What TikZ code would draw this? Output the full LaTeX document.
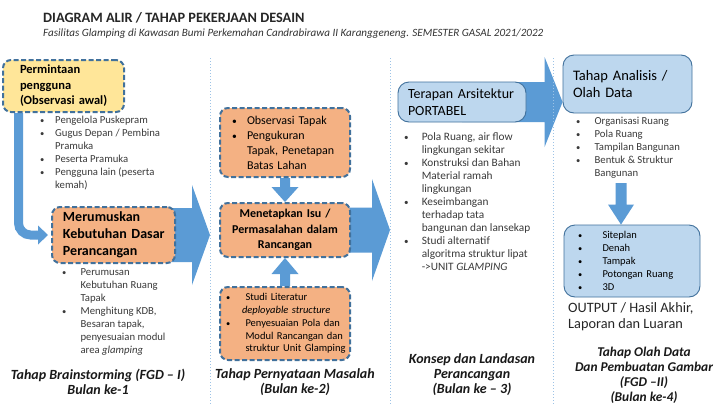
\documentclass[tikz,border=0pt]{standalone}
\usepackage{fontspec}
\setmainfont{Carlito}
\usetikzlibrary{calc,backgrounds,positioning}
\hyphenpenalty=10000
\exhyphenpenalty=10000

\definecolor{boxorange}{HTML}{F4B183}
\definecolor{boxyellow}{HTML}{FFE699}
\definecolor{boxblue}{HTML}{BDD7EE}
\definecolor{edgeblue}{HTML}{41719C}
\definecolor{arrowblue}{HTML}{5B9BD5}
\definecolor{sepblue}{HTML}{9DC3E6}
\definecolor{textgray}{HTML}{3A3A3A}

% bullet and hanging indent for the lists
\newcommand{\bul}[1][15pt]{\makebox[#1][l]{\scalebox{0.8}{\textbullet}}}
\newcommand{\ind}[1][15pt]{\hspace*{#1}}
% block arrow: start, tip, half shaft, half head, head length
\newcommand{\blockarrow}[5]{%
    \path ($(#2)!#5!(#1)$) coordinate (ba);
    \fill[arrowblue] ($(#1)!#3!90:(#2)$) -- ($(ba)!#3!90:(#2)$) -- ($(ba)!#4!90:(#2)$) -- (#2)
        -- ($(ba)!#4!-90:(#2)$) -- ($(ba)!#3!-90:(#2)$) -- ($(#1)!#3!-90:(#2)$) -- cycle;}

\tikzset{
    dashbox/.style={draw=edgeblue, line width=2pt, dash pattern=on 5pt off 2.5pt, rounded corners=8pt, align=left},
    orangebox/.style={dashbox, fill=boxorange},
    yellowbox/.style={dashbox, fill=boxyellow},
    bluebox/.style={draw=edgeblue, line width=0.9pt, fill=boxblue, rounded corners=11pt, align=left},
    bullets/.style={anchor=north west, inner sep=0pt, align=left, text=textgray, font=\fontsize{10.7}{13}\selectfont},
    tahap/.style={align=center, text=black!90, font=\fontsize{14}{15}\selectfont\bfseries\itshape},
    sepline/.style={sepblue, line width=1pt, dotted},
}

\begin{document}
\begin{tikzpicture}[x=1pt,y=-1pt]
    \useasboundingbox (0,0) rectangle (716,410);

    % Heading
    \node[anchor=base west, inner sep=0pt, text=black!85, font=\fontsize{14.3}{16}\selectfont\bfseries] (judul) at (43,22) {DIAGRAM ALIR / TAHAP PEKERJAAN DESAIN};
    \node[anchor=base west, inner sep=0pt, text=black!80, font=\fontsize{11.1}{12}\selectfont\itshape] (subjudul) at (43,36.5)
        {Fasilitas Glamping di Kawasan Bumi Perkemahan Candrabirawa II Karanggeneng. SEMESTER GASAL 2021/2022};

    % Column separators
    \foreach \x in {210,390,553}{%
        \draw[sepline] (\x,58) -- (\x,405);
    }

    % Column 1: brainstorming
    \node[yellowbox, minimum height=52pt, text width=87pt, inner xsep=17pt, font=\fontsize{12.5}{15.5}\selectfont\bfseries] (permintaan) at (63.5,86)
        {Permintaan\\pengguna\\(Observasi~awal)};
    \node[bullets] (pengguna) at (40,116)
        {\bul Pengelola Puskepram\\ \bul Gugus Depan / Pembina\\ \ind Pramuka\\ \bul Peserta Pramuka\\ \bul Pengguna lain (peserta\\ \ind kemah)};
    \node[orangebox, minimum height=56pt, text width=101pt, inner xsep=11pt, font=\fontsize{14}{17}\selectfont\bfseries] (merumuskan) at (113.5,235)
        {Merumuskan\\Kebutuhan~Dasar\\Perancangan};
    \node[bullets] (kebutuhan) at (62,268)
        {\bul[16pt] Perumusan\\ \ind[16pt] Kebutuhan Ruang\\ \ind[16pt] Tapak\\ \bul[16pt] Menghitung KDB,\\ \ind[16pt] Besaran tapak,\\ \ind[16pt] penyesuaian modul\\ \ind[16pt] area \textit{glamping}};
    \node[tahap] (tahapA) at (98,382) {Tahap Brainstorming (FGD – I)\\Bulan ke-1};

    % Column 2: problem statement
    \node[orangebox, minimum height=69pt, text width=106pt, inner xsep=12pt, font=\fontsize{12}{15}\selectfont] (observasi) at (285,142.5)
        {\bul Observasi Tapak\\ \bul Pengukuran\\ \ind Tapak,~Penetapan\\ \ind Batas Lahan};
    \node[orangebox, minimum height=54pt, text width=120pt, inner xsep=5pt, align=center, font=\fontsize{12}{15.5}\selectfont\bfseries] (isu) at (285,230)
        {Menetapkan Isu /\\Permasalahan dalam\\Rancangan};
    \node[orangebox, minimum height=73pt, text width=118pt, inner xsep=6pt, font=\fontsize{10.5}{12.8}\selectfont] (studi) at (285,323.5)
        {\bul[16pt] Studi Literatur\\ \ind[16pt]\textit{deployable~structure}\\ \bul[16pt] Penyesuaian~Pola~dan\\ \ind[16pt] Modul~Rancangan~dan\\ \ind[16pt] struktur~Unit~Glamping};
    \node[tahap] (tahapB) at (295,382) {Tahap Pernyataan Masalah\\(Bulan ke-2)};

    % Column 3: concept
    \node[bluebox, minimum height=40pt, text width=108pt, inner xsep=10pt, font=\fontsize{14}{17}\selectfont] (terapan) at (462,102)
        {Terapan~Arsitektur\\PORTABEL};
    \node[bullets, font=\fontsize{11.3}{13}\selectfont] (konsepList) at (404,132)
        {\bul[15pt] Pola Ruang, air flow\\ \ind[15pt] lingkungan sekitar\\ \bul[15pt] Konstruksi dan Bahan\\ \ind[15pt] Material ramah\\ \ind[15pt] lingkungan\\
         \bul[15pt] Keseimbangan\\ \ind[15pt] terhadap tata\\ \ind[15pt] bangunan dan lansekap\\ \bul[15pt] Studi alternatif\\ \ind[15pt] algoritma struktur lipat\\ \ind[15pt] ->UNIT \textit{GLAMPING}};
    \node[tahap] (tahapC) at (472,375) {Konsep dan Landasan\\Perancangan\\(Bulan ke – 3)};

    % Column 4: analysis and drawings
    \node[bluebox, minimum height=58pt, text width=109pt, inner xsep=10pt, font=\fontsize{14.5}{17.5}\selectfont] (analisis) at (627.5,84)
        {Tahap Analisis /\\Olah Data};
    \node[bullets] (analisisList) at (576,117)
        {\bul[16pt] Organisasi Ruang\\ \bul[16pt] Pola Ruang\\ \bul[16pt] Tampilan Bangunan\\ \bul[16pt] Bentuk \& Struktur\\ \ind[16pt] Bangunan};
    \node[bluebox, minimum height=72pt, text width=108pt, inner xsep=14pt, font=\fontsize{10.5}{13}\selectfont] (outbox) at (632,261)
        {\bul[21pt] Siteplan\\ \bul[21pt] Denah\\ \bul[21pt] Tampak\\ \bul[21pt] Potongan Ruang\\ \bul[21pt] 3D};
    \node[anchor=north west, inner sep=0pt, align=left, text=black!85, font=\fontsize{14.3}{16}\selectfont] (hasil) at (568,302)
        {OUTPUT / Hasil Akhir,\\Laporan dan Luaran};
    \node[tahap, font=\fontsize{13.4}{15}\selectfont\bfseries\itshape] (tahapD) at (644,375) {Tahap Olah Data\\Dan Pembuatan Gambar\\(FGD –II)\\(Bulan ke-4)};

    % Arrows, behind the boxes
    \begin{scope}[on background layer]
        \fill[white] (0,0) rectangle (716,410);
        % elbow from the request box down to the first task
        \coordinate (siku) at (18.5,235);
        \coordinate (ujungL) at ($(merumuskan.west)+(-3,0)$);
        \coordinate (pangkalL) at ($(ujungL)+(-12,0)$);
        \draw[arrowblue, line width=9pt, rounded corners=12pt] (permintaan.south -| siku) -- (siku) -- (pangkalL);
        \blockarrow{pangkalL}{ujungL}{4.5pt}{9.5pt}{10pt}
        % big arrows between the stages
        \coordinate (ujungA) at (210,235);
        \blockarrow{merumuskan.center}{ujungA}{27pt}{50pt}{18pt}
        \coordinate (ujungB) at (390,230);
        \blockarrow{isu.center}{ujungB}{22.5pt}{51pt}{18pt}
        \blockarrow{terapan.center}{terapan.east -| analisis.west}{20pt}{45pt}{18pt}
        % small arrows into the issue box
        \blockarrow{observasi.south}{isu.north}{5pt}{13.5pt}{15pt}
        \blockarrow{studi.north}{isu.south}{5pt}{13.5pt}{16pt}
        % analysis down to the drawings
        \coordinate (turun) at (621,183);
        \blockarrow{turun}{turun |- outbox.north}{5.5pt}{13pt}{20pt}
    \end{scope}
\end{tikzpicture}
\end{document}
